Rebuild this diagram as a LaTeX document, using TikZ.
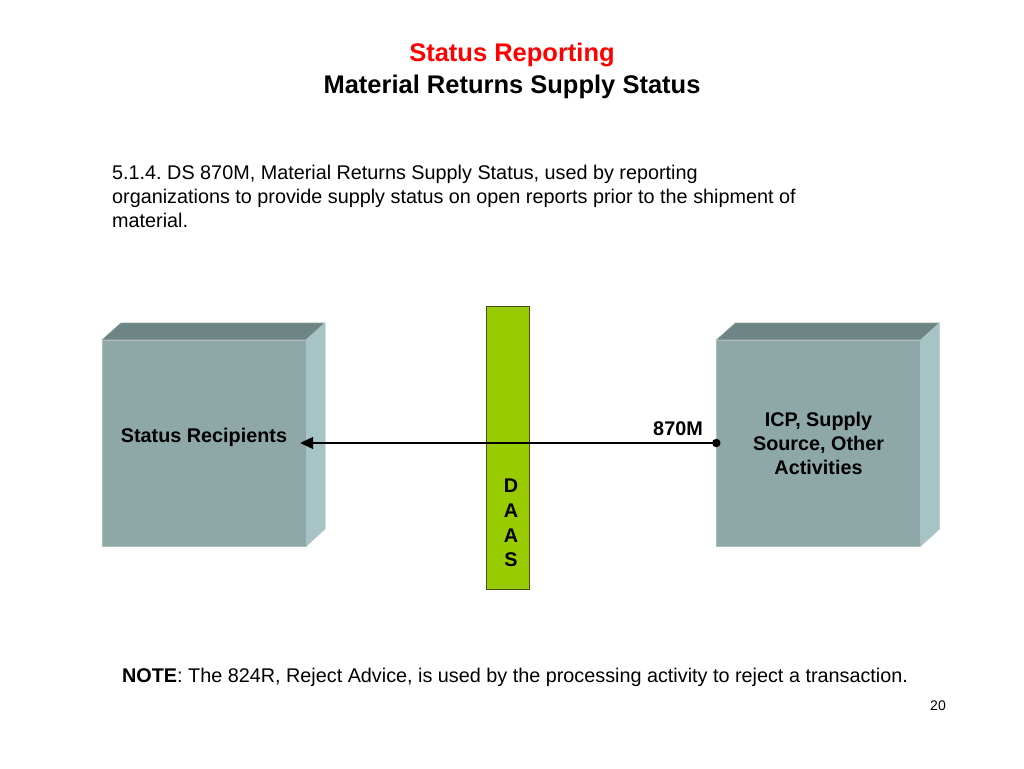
\documentclass[tikz,border=0pt]{standalone}
\usepackage{fontspec}
\setmainfont{Liberation Sans}
\usepackage{xcolor}
\usetikzlibrary{positioning, arrows.meta}
\frenchspacing

\definecolor{faceFront}{RGB}{142,168,168}
\definecolor{faceTop}{RGB}{110,133,133}
\definecolor{faceSide}{RGB}{166,196,198}
\definecolor{edgeGray}{RGB}{175,188,188}
\definecolor{daasGreen}{RGB}{153,204,0}
\definecolor{daasEdge}{RGB}{70,80,30}
\definecolor{titleRed}{RGB}{255,0,0}

\begin{document}
\begin{tikzpicture}[x=1pt, y=-1pt,
    front/.style={draw=edgeGray, fill=faceFront, minimum width=204pt, minimum height=206pt, inner sep=0pt},
    topface/.style={draw=edgeGray, fill=faceTop},
    sideface/.style={draw=edgeGray, fill=faceSide},
    bar/.style={draw=daasEdge, fill=daasGreen, minimum width=43pt, minimum height=283pt, inner sep=0pt},
    boxtext/.style={font=\fontsize{19.8}{24}\selectfont\bfseries, align=center},
    body/.style={font=\fontsize{19.8}{24}\selectfont, align=left, inner sep=0pt},
    flow/.style={line width=1.3pt, -{Triangle[length=13pt, width=12pt]}}
]
    \useasboundingbox (0,0) rectangle (1024,768);

    % Title
    \node (title) [font=\fontsize{25.5}{28}\selectfont\bfseries, text=titleRed] at (512,55) {Status Reporting};
    \node (subtitle) [font=\fontsize{25.5}{28}\selectfont\bfseries] at (512,87) {Material Returns Supply Status};

    % Description
    \node (desc) [body, anchor=base west] at (112,227) {5.1.4. DS 870M, Material Returns Supply Status, used by reporting\\organizations to provide supply status on open reports prior to the shipment of\\material.};

    % Boxes
    \node (recip) [front] at (204,443) {};
    \draw [topface] (recip.north west) -- ++(19,-17) -- ++(204,0) -- (recip.north east) -- cycle;
    \draw [sideface] (recip.north east) -- ++(19,-17) -- ++(0,206) -- (recip.south east) -- cycle;
    \node (recipText) [boxtext] at ([yshift=6pt]recip.center) {Status Recipients};

    \node (icp) [front] at (818.5,443) {};
    \draw [topface] (icp.north west) -- ++(19,-17) -- ++(204,0) -- (icp.north east) -- cycle;
    \draw [sideface] (icp.north east) -- ++(19,-17) -- ++(0,206) -- (icp.south east) -- cycle;
    \node (icpText) [boxtext] at (icp.center) {ICP, Supply\\Source, Other\\Activities};

    % DAAS
    \node (daas) [bar] at (507.5,447.5) {};
    \node (daasText) [boxtext, font=\fontsize{19.8}{24.6}\selectfont\bfseries] at (511,523) {D\\A\\A\\S};

    % Transaction
    \node (dot) [circle, fill=black, inner sep=0pt, minimum size=8.5pt] at (icp.west) {};
    \draw [flow] (dot.center) -- ([xshift=-6pt]recip.east);
    \node (txn) [boxtext, anchor=base east] at ([xshift=-10pt, yshift=8pt]icp.west) {870M};

    % Note
    \node (note) [body, anchor=base west] at (122,682) {\textbf{NOTE}: The 824R, Reject Advice, is used by the processing activity to reject a transaction.};
    \node (page) [font=\fontsize{14}{16}\selectfont] at (938,706) {20};
\end{tikzpicture}
\end{document}
